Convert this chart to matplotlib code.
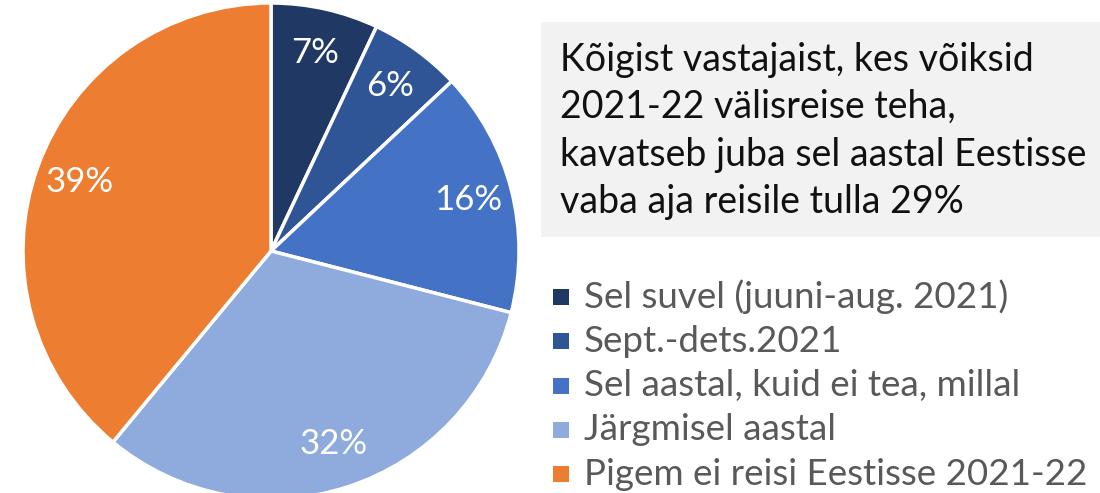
import matplotlib
matplotlib.use("Agg")
import matplotlib.pyplot as plt
from matplotlib.patches import Rectangle

labels = ["Sel suvel (juuni-aug. 2021)", "Sept.-dets.2021",
          "Sel aastal, kuid ei tea, millal", "Järgmisel aastal",
          "Pigem ei reisi Eestisse 2021-22"]
shares = [7, 6, 16, 32, 39]
colors = ["#203864", "#2F5597", "#4472C4", "#8FAADC", "#ED7D31"]
note = ("Kõigist vastajaist, kes võiksid\n2021-22 välisreise teha,\n"
        "kavatseb juba sel aastal Eestisse\nvaba aja reisile tulla 29%")

plt.rcParams["font.family"] = ["Lato", "DejaVu Sans"]

W, H = 1100, 493
fig = plt.figure(figsize=(W / 100, H / 100), dpi=100)

# pie axes placed in pixel terms: center (271, 251), radius 248
cx, cy, r = 271, 251, 248
ax = fig.add_axes([(cx - r) / W, (H - cy - r) / H, 2 * r / W, 2 * r / H])
wedges, texts, autotexts = ax.pie(
    shares, colors=colors, startangle=90, counterclock=False,
    autopct=lambda p: f"{p:.0f}%", pctdistance=0.82, radius=1,
    wedgeprops=dict(edgecolor="white", linewidth=2.5),
    textprops=dict(color="white", fontsize=25))
ax.set_xlim(-1, 1)
ax.set_ylim(-1, 1)
ax.set_aspect("auto")

# grey note box
fig.patches.append(Rectangle((541 / W, (H - 237) / H), (W - 541) / W, 215 / H,
                             transform=fig.transFigure, facecolor="#F2F2F2",
                             edgecolor="none", zorder=0))
fig.text(560 / W, (H - 131) / H, note, fontsize=27, color="#111111",
         va="center", ha="left", linespacing=1.4)

# legend drawn by hand
y0, step = 297, 44.3
for i, (lab, col) in enumerate(zip(labels, colors)):
    y = y0 + i * step
    fig.patches.append(Rectangle((553 / W, (H - y - 8) / H), 16 / W, 16 / H,
                                 transform=fig.transFigure, facecolor=col,
                                 edgecolor="none"))
    fig.text(584 / W, (H - y) / H, lab, fontsize=26.5, color="#595959",
             va="center", ha="left")

fig.savefig("out.png", dpi=100)
